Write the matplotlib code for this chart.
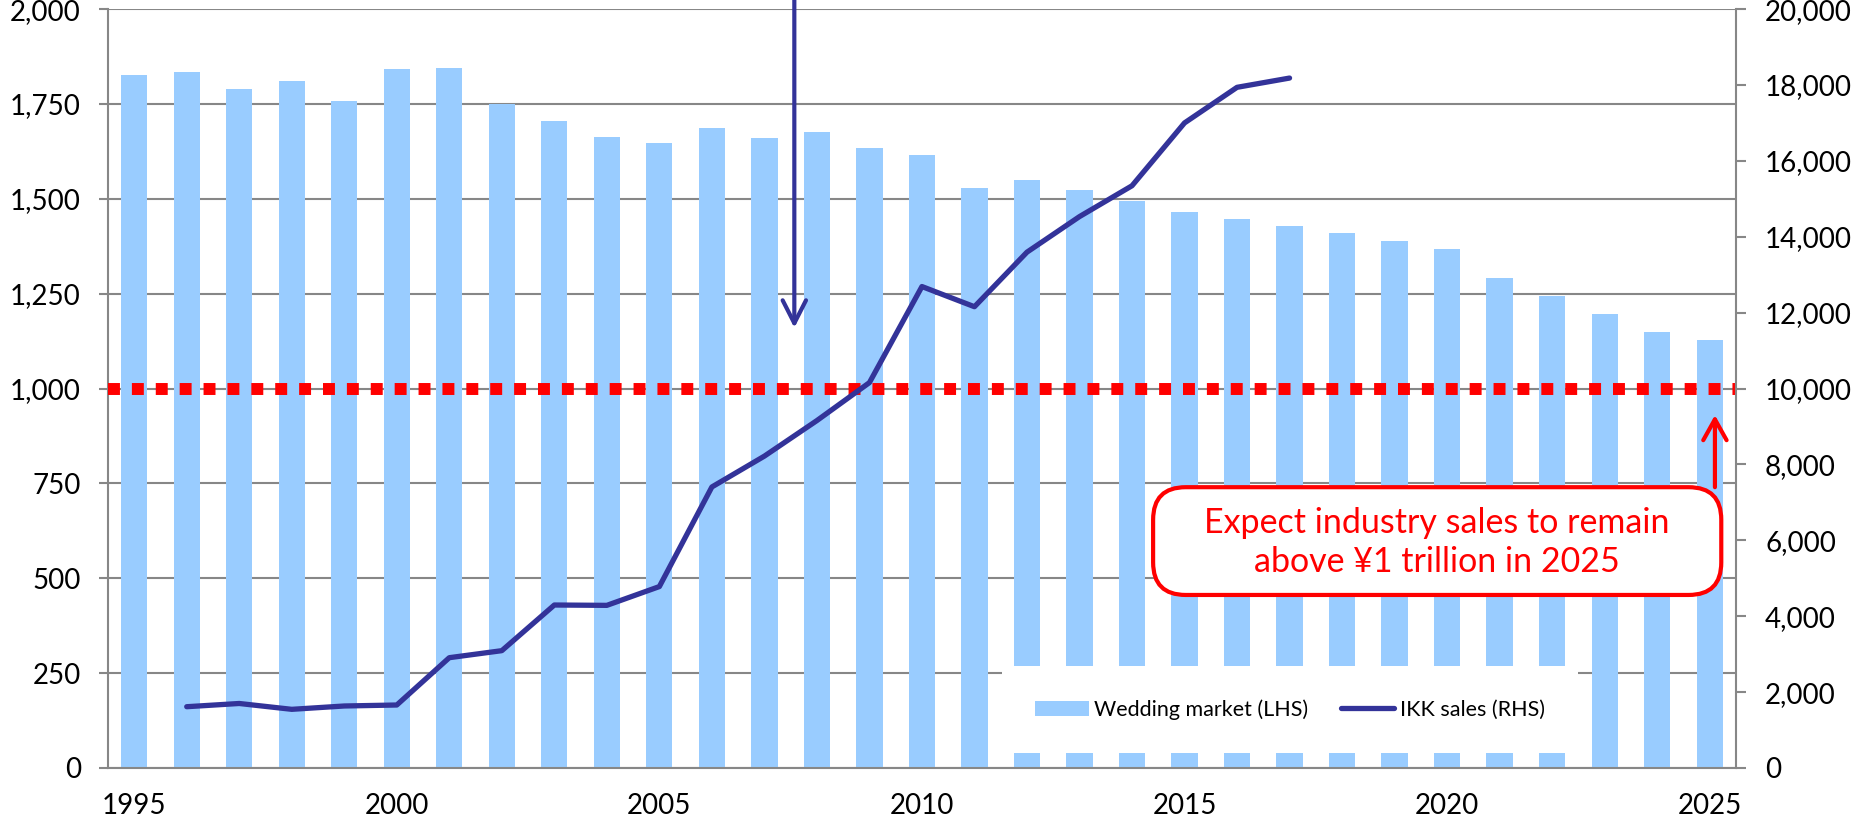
import matplotlib.pyplot as plt
from matplotlib.patches import FancyBboxPatch
from matplotlib.ticker import FuncFormatter

plt.rcParams['font.family'] = ['Lato', 'DejaVu Sans']

years = list(range(1995, 2026))
wedding = [1826, 1834, 1789, 1810, 1757, 1841, 1846, 1749, 1706, 1662,
           1647, 1687, 1660, 1675, 1633, 1616, 1528, 1550, 1522, 1494,
           1466, 1447, 1428, 1409, 1388, 1369, 1291, 1244, 1197, 1150,
           1128]
ikk_years = list(range(1996, 2018))
ikk = [1615, 1700, 1546, 1634, 1660, 2907, 3092, 4295, 4286, 4781,
       7406, 8219, 9156, 10156, 12688, 12156, 13594, 14531, 15344, 17000,
       17938, 18182]
year_ticks = [1995, 2000, 2005, 2010, 2015, 2020, 2025]

bar_col = '#99CCFF'
line_col = '#333399'
grid_col = '#878787'

x = [y - 1995 for y in years]
x_ikk = [y - 1995 for y in ikk_years]

fig = plt.figure(figsize=(18.58, 8.25), dpi=100)
ax = fig.add_axes([0.0581, 0.0691, 0.8762, 0.9199])
ax2 = ax.twinx()

ax.bar(x, wedding, width=0.5, color=bar_col, zorder=2, label='Wedding market (LHS)')
ax.set_axisbelow(True)
ax.yaxis.grid(True, color=grid_col, lw=1.5, zorder=0)
ax.set_ylim(0, 2000)
ax.set_yticks(range(0, 2001, 250))
ax.yaxis.set_major_formatter(FuncFormatter(lambda v, p: f'{int(v):,}'))
ax.set_xlim(-0.5, 30.5)
ax.set_xticks([y - 1995 for y in year_ticks])
ax.set_xticklabels([str(y) for y in year_ticks])

# red dotted 1 trillion line
ax.axhline(1000, color='#FF0000', lw=8.6, linestyle=(0, (1, 1)), zorder=3)

ax2.plot(x_ikk, ikk, color=line_col, lw=3.8, solid_capstyle='round',
         solid_joinstyle='round', label='IKK sales (RHS)', zorder=3)
ax2.set_ylim(0, 20000)
ax2.set_yticks(range(0, 20001, 2000))
ax2.yaxis.set_major_formatter(FuncFormatter(lambda v, p: f'{int(v):,}'))

for a in (ax, ax2):
    for s in a.spines.values():
        s.set_color(grid_col)
        s.set_linewidth(1.5)
    a.spines['top'].set_visible(False)
ax.spines['right'].set_visible(False)
ax2.spines['left'].set_visible(False)
ax2.spines['bottom'].set_visible(False)

ax.tick_params(axis='y', direction='out', length=6.5, width=1.5, color=grid_col,
               labelsize=20, pad=13)
ax.tick_params(axis='x', length=0, labelsize=20, pad=18)
ax2.tick_params(axis='y', direction='out', length=7, width=1.5, color=grid_col,
                labelsize=20, pad=14)

# legend
h1, l1 = ax.get_legend_handles_labels()
h2, l2 = ax2.get_legend_handles_labels()
leg = ax2.legend(h1 + h2, l1 + l2, loc='center', bbox_to_anchor=(0.726, 0.077),
                 ncol=2, fontsize=15.5, frameon=True, fancybox=False,
                 framealpha=1, facecolor='white', edgecolor='none',
                 borderpad=1.55, handlelength=2.5, handletextpad=0.25,
                 columnspacing=1.5)
leg.set_zorder(10)

# blue arrow from top
ax2.annotate('', xy=(12.57, 11600), xytext=(12.57, 20400),
             annotation_clip=False,
             arrowprops=dict(arrowstyle='->,head_length=0.55,head_width=0.28',
                             color=line_col, lw=3, mutation_scale=30,
                             shrinkA=0, shrinkB=0))

# red callout
box = FancyBboxPatch((0.642, 0.228), 0.349, 0.142,
                     boxstyle='round,pad=0,rounding_size=0.02',
                     mutation_aspect=1628 / 759, transform=ax2.transAxes,
                     facecolor='white', edgecolor='#FF0000', lw=3, zorder=8)
ax2.add_patch(box)
ax2.text(0.8165, 0.297, 'Expect industry sales to remain\nabove ¥1 trillion in 2025',
         transform=ax2.transAxes, ha='center', va='center', color='#FF0000',
         fontsize=24.5, linespacing=1.3, zorder=9)
ax2.annotate('', xy=(30.1, 9300), xytext=(30.1, 7400),
             arrowprops=dict(arrowstyle='->,head_length=0.5,head_width=0.28',
                             color='#FF0000', lw=3, mutation_scale=30,
                             shrinkA=0, shrinkB=0), zorder=9)

fig.savefig('out.png', dpi=100)
